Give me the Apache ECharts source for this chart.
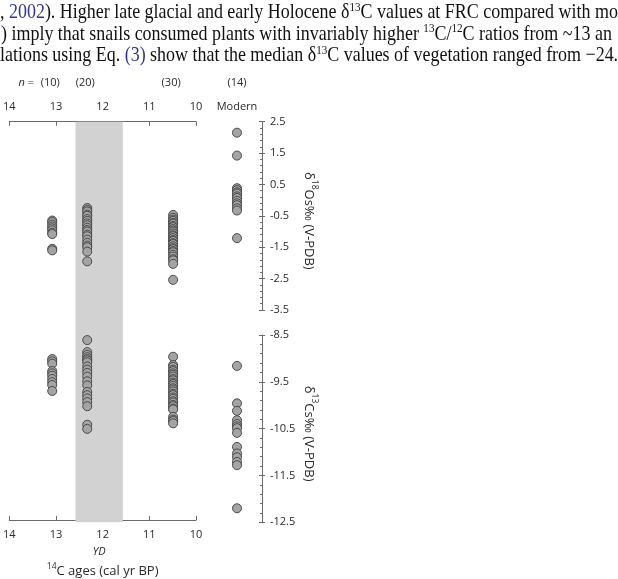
<!DOCTYPE html>
<html><head><meta charset="utf-8">
<script src="https://cdn.jsdelivr.net/npm/echarts@6/dist/echarts.min.js"></script>
<style>html,body{margin:0;padding:0;background:#fff}#c{width:618px;height:579px}</style>
</head><body><div id="c"></div>
<script>
// ---- data ----
const ageTicks = [14, 13, 12, 11, 10];
const columnAges = [13.08, 12.33, 10.49];
const columnN = ['(10)', '(20)', '(30)'];
const modernLabel = 'Modern';
const modernN = '(14)';
const ydBand = [12.55, 11.55];

const d18O_c1 = [-0.65, -0.70, -0.78, -0.84, -0.90, -0.96, -1.04, -1.08, -1.55, -1.60];
const d18O_c2 = [-0.25, -0.31, -0.36, -0.46, -0.50, -0.60, -0.66, -0.74, -0.80, -0.88,
                 -0.95, -1.00, -1.10, -1.15, -1.26, -1.36, -1.45, -1.50, -1.64, -1.95];
const d18O_c3 = [-0.47, -0.56, -0.62, -0.66, -0.72, -0.75, -0.82, -0.86, -0.92, -0.97,
                 -1.00, -1.06, -1.12, -1.15, -1.21, -1.27, -1.30, -1.37, -1.40, -1.47,
                 -1.53, -1.56, -1.62, -1.66, -1.74, -1.80, -1.88, -1.92, -2.03, -2.54];
const d18O_mod = [2.15, 1.42, 0.38, 0.32, 0.25, 0.21, 0.12, 0.07, -0.02, -0.10, -0.16, -0.26, -0.33, -1.21];

const d13C_c1 = [-9.02, -9.07, -9.12, -9.28, -9.33, -9.38, -9.45, -9.52, -9.58, -9.71];
const d13C_c2 = [-8.61, -8.87, -8.93, -8.98, -9.02, -9.05, -9.09, -9.18, -9.25, -9.32,
                 -9.40, -9.50, -9.59, -9.73, -9.80, -9.87, -9.95, -10.04, -10.44, -10.53];
const d13C_c3 = [-8.97, -9.15, -9.19, -9.25, -9.28, -9.33, -9.36, -9.40, -9.45, -9.48,
                 -9.53, -9.56, -9.60, -9.65, -9.68, -9.72, -9.77, -9.80, -9.85, -9.88,
                 -9.93, -9.96, -10.01, -10.04, -10.09, -10.11, -10.27, -10.33, -10.36, -10.41];
const d13C_mod = [-9.16, -9.96, -10.12, -10.32, -10.40, -10.45, -10.49, -10.59, -10.89, -11.03, -11.11, -11.21, -11.28, -12.20];

const d18OTicks = [2.5, 1.5, 0.5, -0.5, -1.5, -2.5, -3.5];
const d13CTicks = [-8.5, -9.5, -10.5, -11.5, -12.5];

// ---- styles ----
const FONT = 'Open Sans';
const AX = '#6a6a6a';
const TXT = '#2a2a2a';
const ptStyle = { color: '#a4a4a4', borderColor: '#4a4a4a', borderWidth: 1, opacity: 1 };

const chart = echarts.init(document.getElementById('c'), null, { renderer: 'canvas' });

function colSeries(xIdx, yIdx, x, vals) {
  return {
    type: 'scatter', xAxisIndex: xIdx, yAxisIndex: yIdx, z: 3,
    symbol: 'circle', symbolSize: 9, itemStyle: ptStyle,
    data: vals.map(v => [x, v]), silent: true
  };
}

const gL = 7, gW = 189;
const t18 = 121.7, h18 = 188.3, t13 = 335, h13 = 187.3;

const ageAxisBase = {
  type: 'value', min: 10, max: 14, interval: 1, inverse: true,
  axisLine: { show: true, onZero: false, lineStyle: { color: AX, width: 1 } },
  axisTick: { show: true, inside: true, length: 4, lineStyle: { color: AX } },
  axisLabel: { color: TXT, fontSize: 11, fontFamily: FONT, margin: 9 },
  splitLine: { show: false }
};

function isoAxis(grid, min, max, nameRich) {
  return {
    gridIndex: grid, type: 'value', min: min, max: max, interval: 1, position: 'right',
    axisLine: { show: true, onZero: false, lineStyle: { color: AX, width: 1 } },
    axisTick: { show: true, inside: true, length: 3, lineStyle: { color: AX } },
    minorTick: { show: true, splitNumber: 5, length: 2, lineStyle: { color: AX } },
    axisLabel: { color: TXT, fontSize: 11, fontFamily: FONT, margin: 8, formatter: v => v.toFixed(1) },
    splitLine: { show: false },
    name: nameRich, nameLocation: 'middle', nameRotate: -90, nameGap: 40,
    nameTextStyle: {
      color: TXT, fontFamily: FONT, fontSize: 13, padding: [0, 0, 0, 10],
      rich: {
        n: { fontSize: 13, fontFamily: FONT, color: TXT, lineHeight: 17, verticalAlign: 'bottom' },
        s: { fontSize: 8.5, fontFamily: FONT, color: TXT, lineHeight: 17, verticalAlign: 'top' }
      }
    }
  };
}
function crossTicks(grid, min, max) {
  return {
    gridIndex: grid, type: 'value', min: min, max: max, interval: 1, position: 'right',
    axisLine: { show: false, onZero: false }, axisLabel: { show: false }, splitLine: { show: false },
    axisTick: { show: true, inside: false, length: 3, lineStyle: { color: AX } }
  };
}

const option = {
  animation: false,
  backgroundColor: '#fff',
  textStyle: { fontFamily: FONT },
  grid: [
    { left: gL, width: gW, top: t18, height: h18 },
    { left: gL, width: gW, top: t13, height: h13 },
    { left: gL, width: gW, top: t18, height: t13 + h13 - t18 },
    { left: 212, width: 50, top: t18, height: h18 },
    { left: 212, width: 50, top: t13, height: h13 }
  ],
  xAxis: [
    Object.assign({}, ageAxisBase, { gridIndex: 0, position: 'top' }),
    Object.assign({}, ageAxisBase, {
      gridIndex: 1, position: 'bottom',
      name: '{s|14}{n|C ages (cal yr BP)}', nameLocation: 'middle', nameGap: 42,
      nameTextStyle: {
        rich: {
          n: { fontSize: 13, fontFamily: FONT, color: TXT, lineHeight: 16, verticalAlign: 'bottom' },
          s: { fontSize: 8.5, fontFamily: FONT, color: TXT, lineHeight: 16, verticalAlign: 'top' }
        }
      }
    }),
    { gridIndex: 2, type: 'value', min: 10, max: 14, inverse: true, show: false },
    { gridIndex: 3, type: 'category', data: [modernLabel], position: 'top',
      axisLine: { show: false, onZero: false }, axisTick: { show: false },
      axisLabel: { color: TXT, fontSize: 11, fontFamily: FONT, margin: 9 } },
    { gridIndex: 4, type: 'category', data: [modernLabel], show: false }
  ],
  yAxis: [
    { gridIndex: 0, type: 'value', min: -3.5, max: 2.5, show: false },
    { gridIndex: 1, type: 'value', min: -12.5, max: -8.5, show: false },
    { gridIndex: 2, type: 'value', min: 0, max: 1, show: false },
    isoAxis(3, -3.5, 2.5, '{n|δ}{s|18}{n|Os‰ (V-PDB)}'),
    isoAxis(4, -12.5, -8.5, '{n|δ}{s|13}{n|Cs‰ (V-PDB)}'),
    crossTicks(3, -3.5, 2.5),
    crossTicks(4, -12.5, -8.5)
  ],
  series: [
    {
      type: 'scatter', xAxisIndex: 2, yAxisIndex: 2, data: [], z: 1, silent: true,
      markArea: {
        silent: true,
        itemStyle: { color: '#d2d2d2', opacity: 1 },
        label: { show: true, position: 'bottom', distance: 24, color: TXT, fontSize: 11,
                 fontStyle: 'italic', fontFamily: FONT },
        data: [[{ xAxis: ydBand[0], name: 'YD' }, { xAxis: ydBand[1] }]]
      }
    },
    colSeries(0, 0, columnAges[0], d18O_c1),
    colSeries(0, 0, columnAges[1], d18O_c2),
    colSeries(0, 0, columnAges[2], d18O_c3),
    colSeries(3, 3, modernLabel, d18O_mod),
    colSeries(1, 1, columnAges[0], d13C_c1),
    colSeries(1, 1, columnAges[1], d13C_c2),
    colSeries(1, 1, columnAges[2], d13C_c3),
    colSeries(4, 4, modernLabel, d13C_mod)
  ]
};
chart.setOption(option);

// ---- annotations: n counts above each column, and the surrounding paper text ----
const nY = 83;
const g = [];
columnAges.forEach((a, i) => {
  const px = chart.convertToPixel({ xAxisIndex: 0 }, a);
  g.push({ type: 'text', x: px - 2, y: nY, style: { text: columnN[i], fill: TXT, font: '11px "Open Sans"', align: 'center', verticalAlign: 'middle' } });
});
const mx = chart.convertToPixel({ xAxisIndex: 3 }, modernLabel);
g.push({ type: 'text', x: mx, y: nY, style: { text: modernN, fill: TXT, font: '11px "Open Sans"', align: 'center', verticalAlign: 'middle' } });
g.push({ type: 'text', x: 34, y: nY, style: {
  text: '{i|n} =', align: 'right', verticalAlign: 'middle', fill: TXT, font: '11px "Open Sans"',
  rich: { i: { fontStyle: 'italic', fontSize: 11, fontFamily: FONT, fill: TXT } } } });

const serifRich = {
  t: { fontFamily: 'Liberation Serif', fontSize: 21, fill: '#111', lineHeight: 22, verticalAlign: 'bottom' },
  b: { fontFamily: 'Liberation Serif', fontSize: 21, fill: '#34348f', lineHeight: 22, verticalAlign: 'bottom' },
  s: { fontFamily: 'Liberation Serif', fontSize: 13, fill: '#111', lineHeight: 22, verticalAlign: 'top' }
};
const paraLines = [
  '{t|, }{b|2002}{t|). Higher late glacial and early Holocene δ}{s|13}{t|C values at FRC compared with mo}',
  '{t|) imply that snails consumed plants with invariably higher }{s|13}{t|C/}{s|12}{t|C ratios from ~13 an}',
  '{t|lations using Eq. }{b|(3)}{t| show that the median δ}{s|13}{t|C values of vegetation ranged from −24.}'
];
const paraX = [0, 1, 0];
const paraY = [1, 22.5, 44];
paraLines.forEach((s, i) => {
  g.push({ type: 'text', x: paraX[i], y: paraY[i], scaleX: 0.855,
    style: { text: s, rich: serifRich, align: 'left', verticalAlign: 'top' } });
});
chart.setOption({ graphic: g });
</script>
</body></html>
